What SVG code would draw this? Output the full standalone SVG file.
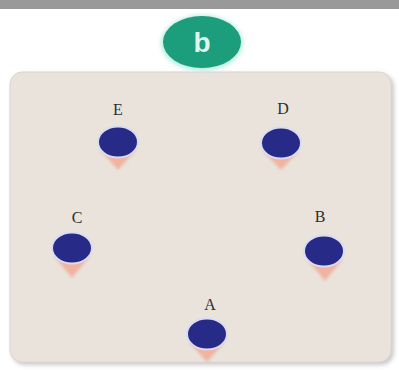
<svg xmlns="http://www.w3.org/2000/svg" width="399" height="370" viewBox="0 0 399 370">
<defs>
<filter id="blur" x="-30%" y="-30%" width="160%" height="160%"><feGaussianBlur stdDeviation="1.5"/></filter>
<filter id="soft" x="-10%" y="-10%" width="120%" height="120%"><feGaussianBlur stdDeviation="2"/></filter>
<style>
.lbl{font-family:"Liberation Serif","DejaVu Serif",serif;font-size:16px;fill:#2e2e2e;text-anchor:middle}
.dot{fill:#272a86;stroke:#d9dcf2;stroke-width:2}
.tri{fill:#f2a892;opacity:0.8;filter:url(#blur)}
</style>
</defs>
<rect width="399" height="370" fill="#ffffff"/>
<rect x="0" y="0" width="399" height="9" fill="#999999"/>
<rect x="12" y="74" width="382" height="291" rx="13" fill="#c9c9c9" filter="url(#soft)"/>
<rect x="10" y="72" width="381" height="290" rx="12" fill="#e9e3dc" stroke="#dcd6cf" stroke-width="1"/>
<g id="badge">
<ellipse cx="202" cy="43" rx="41" ry="28" fill="#b9ece0" filter="url(#soft)"/>
<ellipse cx="202" cy="42" rx="39" ry="26" fill="#1c9d7c"/>
<text x="202" y="52" font-family="Liberation Sans, Arial, sans-serif" font-size="28" font-weight="bold" fill="#dff6ef" text-anchor="middle">b</text>
</g>
<g id="connectors"></g>
<g id="nodeE">
<polygon class="tri" points="100,150 136,150 118,170"/>
<ellipse class="dot" cx="118" cy="142" rx="20" ry="15.5"/>
<text class="lbl" x="118" y="115">E</text>
</g>
<g id="nodeD">
<polygon class="tri" points="263,151 299,151 281,170"/>
<ellipse class="dot" cx="281" cy="143" rx="20" ry="15.5"/>
<text class="lbl" x="283" y="114">D</text>
</g>
<g id="nodeC">
<polygon class="tri" points="54,256 90,256 72,278"/>
<ellipse class="dot" cx="72" cy="248" rx="20" ry="15.5"/>
<text class="lbl" x="77" y="223">C</text>
</g>
<g id="nodeB">
<polygon class="tri" points="307,259 343,259 325,281"/>
<ellipse class="dot" cx="324" cy="251" rx="20" ry="15.5"/>
<text class="lbl" x="320" y="222">B</text>
</g>
<g id="nodeA">
<polygon class="tri" points="189,342 225,342 207,362"/>
<ellipse class="dot" cx="207" cy="334" rx="20" ry="15.5"/>
<text class="lbl" x="210" y="310">A</text>
</g>
</svg>
